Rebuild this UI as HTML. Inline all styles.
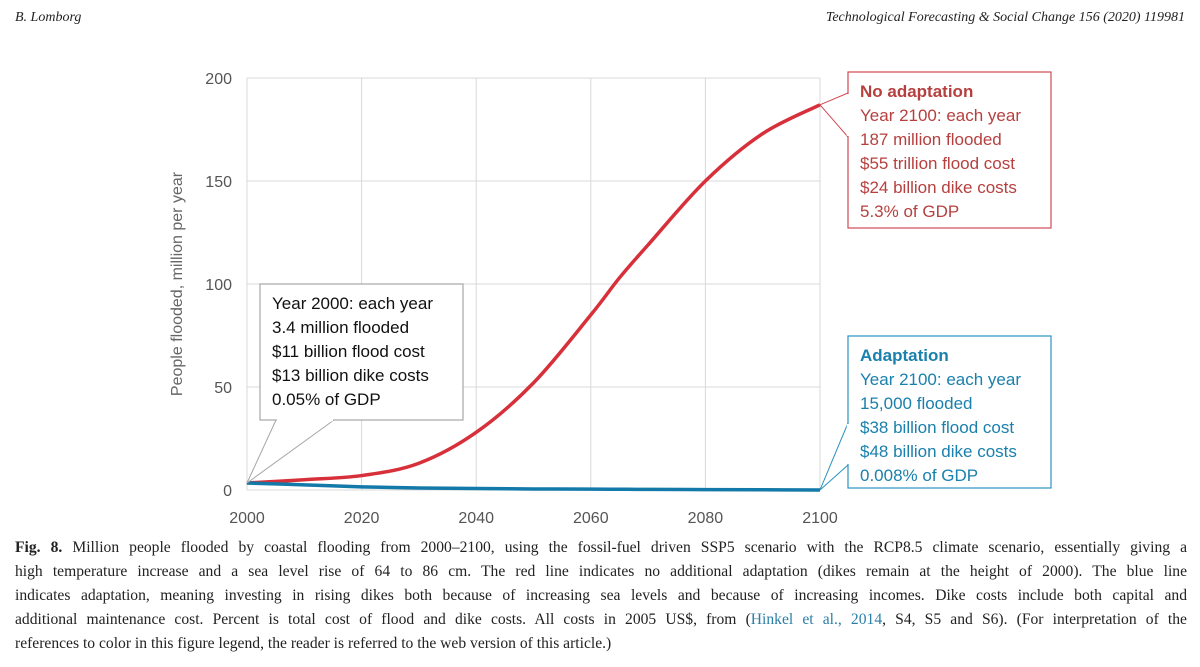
<!DOCTYPE html>
<html><head><meta charset="utf-8">
<style>
body{margin:0;width:1200px;height:667px;background:#fff;overflow:hidden;position:relative;font-family:"Liberation Sans",sans-serif}
.hdr{position:absolute;top:10px;font-family:"Liberation Serif",serif;font-style:italic;font-size:14px;color:#222}
.cap{position:absolute;left:15px;top:536px;width:1172px;font-family:"Liberation Serif",serif;font-size:15.6px;line-height:24px;color:#222}
.cap div{text-align:justify;text-align-last:justify;white-space:nowrap;overflow:visible}
.cap div.last{text-align-last:left}
.cap a{color:#2a7fa8;text-decoration:none}
</style></head><body>
<div class="hdr" style="left:15px">B. Lomborg</div>
<div class="hdr" style="right:15px">Technological Forecasting &amp; Social Change 156 (2020) 119981</div>
<svg id="chart" width="1200" height="530" style="position:absolute;left:0;top:0"></svg>
<div class="cap">
<div style="white-space:normal"><b>Fig. 8.</b> Million people flooded by coastal flooding from 2000–2100, using the fossil-fuel driven SSP5 scenario with the RCP8.5 climate scenario, essentially giving a</div>
<div style="white-space:normal">high temperature increase and a sea level rise of 64 to 86 cm. The red line indicates no additional adaptation (dikes remain at the height of 2000). The blue line</div>
<div style="white-space:normal">indicates adaptation, meaning investing in rising dikes both because of increasing sea levels and because of increasing incomes. Dike costs include both capital and</div>
<div style="white-space:normal">additional maintenance cost. Percent is total cost of flood and dike costs. All costs in 2005 US$, from (<a>Hinkel et al., 2014</a>, S4, S5 and S6). (For interpretation of the</div>
<div class="last">references to color in this figure legend, the reader is referred to the web version of this article.)</div>
</div>
<script>
const years=[2000,2010,2020,2030,2040,2050,2060,2065,2070,2080,2090,2100];
const noAdapt=[3.4,5,7,13,28,52,85,103,119,150,173,187];
const adapt=[3.4,2.5,1.5,1,0.7,0.5,0.4,0.35,0.3,0.2,0.1,0.015];
const xTicks=[2000,2020,2040,2060,2080,2100];
const yTicks=[0,50,100,150,200];
const NS="http://www.w3.org/2000/svg";
const svg=document.getElementById('chart');
const X=v=>247+(v-2000)/100*573;
const Y=v=>490-v/200*412;
function mk(t,a,p){const e=document.createElementNS(NS,t);for(const k in a)e.setAttribute(k,a[k]);(p||svg).appendChild(e);return e;}
yTicks.forEach(v=>{
  const l=mk('line',{x1:247,x2:820,y1:Y(v),y2:Y(v),stroke:'#d9d9d9','stroke-width':1});
  
  
  const t=mk('text',{x:232,y:Y(v)+6,'text-anchor':'end','font-size':16,fill:'#555'});
  t.textContent=v;
  
  
});
xTicks.forEach(v=>{
  const l=mk('line',{x1:X(v),x2:X(v),y1:Y(200),y2:Y(0),stroke:'#d9d9d9','stroke-width':1});
  
  
  const t=mk('text',{x:X(v),y:523,'text-anchor':'middle','font-size':16,fill:'#555'});
  t.textContent=v;
  
  
});
const yt=mk('text',{x:0,y:0,transform:'translate(182,284) rotate(-90)','text-anchor':'middle','font-size':16,fill:'#666'});
yt.textContent='People flooded, million per year';


function smooth(vals){
  const p=years.map((y,i)=>[X(y),Y(vals[i])]);
  let d='M'+p[0][0]+','+p[0][1];
  for(let i=0;i<p.length-1;i++){
    const p0=p[i-1]||p[i],p1=p[i],p2=p[i+1],p3=p[i+2]||p2;
    d+=' C'+(p1[0]+(p2[0]-p0[0])/6)+','+(p1[1]+(p2[1]-p0[1])/6)+' '+(p2[0]-(p3[0]-p1[0])/6)+','+(p2[1]-(p3[1]-p1[1])/6)+' '+p2[0]+','+p2[1];
  }
  return d;
}
const rl=mk('path',{d:smooth(noAdapt),fill:'none',stroke:'#d7303a','stroke-width':3.5});


const bl=mk('path',{d:smooth(adapt),fill:'none',stroke:'#1379a8','stroke-width':3.5});


function callout(name,x,y,w,h,ptr,col,lines,boldFirst,tcol){
  const g=mk('g',{});
  
  
  const tip=[X(ptr.v[0]),Y(ptr.v[1])];
  mk('path',{d:ptr.d(tip),fill:'#fff',stroke:col,'stroke-width':1},g);
  mk('rect',{x:x,y:y,width:w,height:h,fill:'#fff',stroke:col,'stroke-width':1.2},g);
  mk('path',{d:ptr.cover,stroke:'#fff','stroke-width':2.5,fill:'none'},g);
  lines.forEach((s,i)=>{
    const t=mk('text',{x:x+12,y:y+25+i*24,'font-size':17,fill:tcol,'font-weight':(boldFirst&&i==0)?'bold':'normal'},g);
    t.textContent=s;
  });
}
callout('year-2000-callout',260,284,203,136,{v:[2000,noAdapt[0]],d:t=>`M276,420 L${t[0]},${t[1]} L334,420`,cover:'M277,420 L333,420'},'#a6a6a6',
 ['Year 2000: each year','3.4 million flooded','$11 billion flood cost','$13 billion dike costs','0.05% of GDP'],false,'#111');
callout('no-adaptation-callout',848,72,203,156,{v:[2100,noAdapt[11]],d:t=>`M848,93 L${t[0]},${t[1]} L848,137`,cover:'M848,94 L848,136'},'#d24a55',
 ['No adaptation','Year 2100: each year','187 million flooded','$55 trillion flood cost','$24 billion dike costs','5.3% of GDP'],true,'#b5403f');
callout('adaptation-callout',848,336,203,152,{v:[2100,adapt[11]],d:t=>`M848,423 L${t[0]},${t[1]} L848,465`,cover:'M848,424 L848,464'},'#2b93c0',
 ['Adaptation','Year 2100: each year','15,000 flooded','$38 billion flood cost','$48 billion dike costs','0.008% of GDP'],true,'#1a80ad');
</script>
</body></html>
